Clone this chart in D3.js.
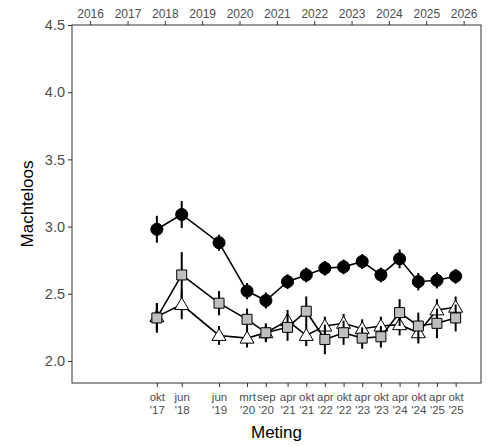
<!DOCTYPE html>
<html><head><meta charset="utf-8">
<script src="https://cdn.jsdelivr.net/npm/d3@7/dist/d3.min.js"></script>
<style>body{margin:0;background:#fff}svg{display:block}</style>
</head><body>
<svg id="c" width="494" height="446"></svg>
<script>
const dates = ["2017-10-15","2018-06-15","2019-06-15","2020-03-15","2020-09-15","2021-04-15","2021-10-15","2022-04-15","2022-10-15","2023-04-15","2023-10-15","2024-04-15","2024-10-15","2025-04-15","2025-10-15"];
const monthLabels = ["okt","jun","jun","mrt","sep","apr","okt","apr","okt","apr","okt","apr","okt","apr","okt"];
const yearLabels = ["'17","'18","'19","'20","'20","'21","'21","'22","'22","'23","'23","'24","'24","'25","'25"];
const topYears = [2016,2017,2018,2019,2020,2021,2022,2023,2024,2025,2026];
const yTicks = [2.0,2.5,3.0,3.5,4.0,4.5];

const circleVals = [2.98,3.09,2.88,2.52,2.45,2.59,2.64,2.69,2.70,2.74,2.64,2.76,2.59,2.60,2.63];
const circleErr  = [0.10,0.10,0.06,0.06,0.06,0.055,0.055,0.055,0.055,0.055,0.055,0.07,0.065,0.06,0.055];
const squareVals = [2.32,2.64,2.43,2.31,2.21,2.25,2.37,2.16,2.21,2.17,2.18,2.36,2.26,2.28,2.32];
const squareErr  = [0.11,0.17,0.09,0.08,0.06,0.10,0.11,0.11,0.09,0.08,0.08,0.10,0.10,0.11,0.10];
const triVals    = [2.33,2.42,2.19,2.17,2.21,2.30,2.19,2.26,2.28,2.24,2.26,2.27,2.21,2.38,2.40];
const triErr     = [0.10,0.11,0.07,0.07,0.07,0.08,0.08,0.07,0.07,0.07,0.07,0.08,0.08,0.08,0.08];

const L=72, R=481, T=25, B=383;
const parse = d3.timeParse("%Y-%m-%d");
const x = d3.scaleTime().domain([new Date(2015,6,8), new Date(2026,5,20)]).range([L,R]);
const y = d3.scaleLinear().domain([1.836,4.5]).range([B,T]);
const svg = d3.select("#c");
const font = "Liberation Sans, Arial, sans-serif";

svg.append("rect").attr("x",L).attr("y",T).attr("width",R-L).attr("height",B-T)
  .attr("fill","none").attr("stroke","#333").attr("stroke-width",1);

const yAx = svg.append("g").attr("transform",`translate(${L},0)`)
  .call(d3.axisLeft(y).tickValues(yTicks).tickFormat(d3.format(".1f")).tickSize(4).tickPadding(3));
yAx.select(".domain").remove();
yAx.selectAll("line").attr("stroke","#333");
yAx.selectAll("text").attr("fill","#4d4d4d").style("font-family",font).style("font-size","14.5px");

const xTop = svg.append("g").attr("transform",`translate(0,${T})`)
  .call(d3.axisTop(x).tickValues(topYears.map(yv=>new Date(yv,0,1))).tickFormat(d3.timeFormat("%Y")).tickSize(4).tickPadding(3));
xTop.select(".domain").remove();
xTop.selectAll("line").attr("stroke","#333");
xTop.selectAll("text").attr("fill","#4d4d4d").style("font-family",font).style("font-size","12px");

const xd = dates.map(parse);
const xBot = svg.append("g").attr("transform",`translate(0,${B})`)
  .call(d3.axisBottom(x).tickValues(xd).tickFormat("").tickSize(4));
xBot.select(".domain").remove();
xBot.selectAll("line").attr("stroke","#333");
xBot.selectAll(".tick").each(function(d,i){
  const g = d3.select(this);
  g.append("text").attr("fill","#4d4d4d").attr("text-anchor","middle").attr("y",18)
    .style("font-family",font).style("font-size","11.5px").text(monthLabels[i]);
  g.append("text").attr("fill","#4d4d4d").attr("text-anchor","middle").attr("y",31)
    .style("font-family",font).style("font-size","11.5px").text(yearLabels[i]);
});

svg.append("text").attr("x",(L+R)/2).attr("y",438).attr("text-anchor","middle")
  .style("font-family",font).style("font-size","17px").attr("fill","#000").text("Meting");
svg.append("text").attr("transform",`translate(33,${(T+B)/2}) rotate(-90)`).attr("text-anchor","middle")
  .style("font-family",font).style("font-size","17px").attr("fill","#000").text("Machteloos");

const line = d3.line().x((d,i)=>x(xd[i])).y(d=>y(d));
function series(vals, errs, shape){
  const g = svg.append("g");
  g.append("path").datum(vals).attr("d",line).attr("fill","none").attr("stroke","#000").attr("stroke-width",1.6);
  g.selectAll("line.e").data(vals).enter().append("line")
    .attr("x1",(d,i)=>x(xd[i])).attr("x2",(d,i)=>x(xd[i]))
    .attr("y1",(d,i)=>y(d-errs[i])).attr("y2",(d,i)=>y(d+errs[i]))
    .attr("stroke","#000").attr("stroke-width",2);
  const pts = g.selectAll("path.p").data(vals).enter().append("path")
    .attr("transform",(d,i)=>`translate(${x(xd[i])},${y(d)})`);
  if(shape==="circle"){
    pts.attr("d",d3.symbol(d3.symbolCircle,115)).attr("fill","#000").attr("stroke","#000");
  } else if(shape==="square"){
    pts.attr("d","M-5,-5H5V5H-5Z").attr("fill","#bebebe").attr("stroke","#000").attr("stroke-width",1);
  } else {
    pts.attr("d","M0,-7L7,5L-7,5Z").attr("fill","#fff").attr("stroke","#000").attr("stroke-width",1);
  }
}
series(triVals, triErr, "tri");
series(squareVals, squareErr, "square");
series(circleVals, circleErr, "circle");
</script>
</body></html>
